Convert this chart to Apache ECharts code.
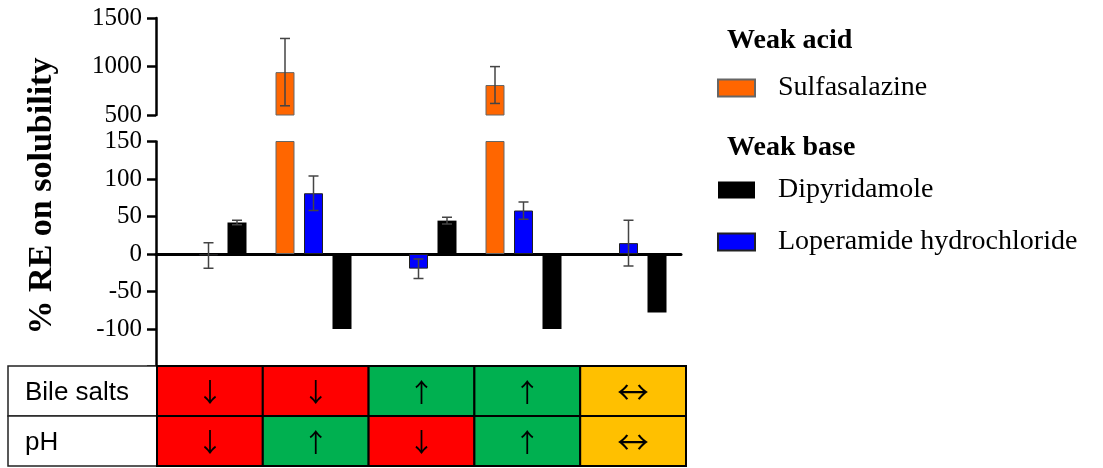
<!DOCTYPE html>
<html>
<head>
<meta charset="utf-8">
<script src="https://cdn.jsdelivr.net/npm/echarts@6/dist/echarts.min.js"></script>
<style>
  html, body { margin: 0; padding: 0; background: #fff; }
  #chart { width: 1103px; height: 468px; }
</style>
</head>
<body>
<div id="chart"></div>
<script>
// Test conditions (one group of bars per column of the condition table)
const conditions = ['BS\u2193 pH\u2193', 'BS\u2193 pH\u2191', 'BS\u2191 pH\u2193', 'BS\u2191 pH\u2191', 'BS\u2194 pH\u2194'];

// % relative effect on solubility (mean and SD)
const sulfasalazine   = [null, 942, null, 809, null];
const sulfasalazineSD = [null, 347, null, 190, null];
const loperamide      = [-2, 81, -19.5, 58, 14.5];
const loperamideSD    = [17, 23, 13, 11.5, 30.5];
const dipyridamole    = [42, -100, 44.5, -100, -78];
const dipyridamoleSD  = [3, 0, 4.5, 0, 0];

// Tick labels of the two y-axis segments
const upperTicks = [500, 1000, 1500];
const lowerTicks = [-100, -50, 0, 50, 100, 150];

// Condition table
const tableRows = ['Bile salts', 'pH'];
const bileSalts = ['\u2193', '\u2193', '\u2191', '\u2191', '\u2194'];
const pH        = ['\u2193', '\u2191', '\u2193', '\u2191', '\u2194'];

const COLORS = { sulfa: '#FF6600', lop: '#0000FF', dip: '#000000' };
const CELL_COLORS = { '\u2193': '#FF0000', '\u2191': '#00B050', '\u2194': '#FFC000' };
const BAR_W = 19, BAR_GAP = 0.5;
const SLOT = BAR_W * (1 + BAR_GAP);
const SERIF = '"Liberation Serif", "Times New Roman", serif';
const SANS = '"Liberation Sans", Arial, sans-serif';
const ARROW_FONT = '"Noto Sans CJK SC", "DejaVu Sans", sans-serif';

const chart = echarts.init(document.getElementById('chart'), null, { renderer: 'canvas' });

function errorBars(values, sds, axisIndex, slot) {
  const data = values
    .map((v, i) => [i, v, sds[i]])
    .filter(d => d[1] != null && d[2] > 0);
  return {
    type: 'custom',
    xAxisIndex: axisIndex,
    yAxisIndex: axisIndex,
    clip: true,
    silent: true,
    z: 5,
    data: data,
    renderItem(params, api) {
      const i = api.value(0), v = api.value(1), e = api.value(2);
      const x = api.coord([i, v])[0] + slot * SLOT;
      const yTop = api.coord([i, v + e])[1];
      const yBot = api.coord([i, v - e])[1];
      const half = 5;
      const style = { stroke: '#444', lineWidth: 1.5 };
      return {
        type: 'group',
        children: [
          { type: 'line', shape: { x1: x, y1: yTop, x2: x, y2: yBot }, style },
          { type: 'line', shape: { x1: x - half, y1: yTop, x2: x + half, y2: yTop }, style },
          { type: 'line', shape: { x1: x - half, y1: yBot, x2: x + half, y2: yBot }, style }
        ]
      };
    }
  };
}

const yAxisCommon = {
  type: 'value',
  splitLine: { show: false },
  axisLine: { show: true, lineStyle: { color: '#000', width: 2.5 } },
  axisTick: { show: true, length: 9, lineStyle: { color: '#000', width: 2.5 } },
  axisLabel: { color: '#000', fontSize: 25, fontFamily: SERIF, margin: 14, formatter: v => String(v) }
};

const tableData = [];
tableRows.forEach((r, ri) => {
  const row = ri === 0 ? bileSalts : pH;
  row.forEach((s, ci) => tableData.push([ci, ri]));
});
const tableSymbols = [].concat(bileSalts, pH);
const LABEL_COL_W = 149;

const option = {
  animation: false,
  backgroundColor: '#fff',
  title: [
    { text: 'Weak acid', left: 727, top: 25, padding: 0,
      textStyle: { fontFamily: SERIF, fontSize: 28, fontWeight: 'bold', color: '#000', lineHeight: 32 } },
    { text: 'Weak base', left: 727, top: 132, padding: 0,
      textStyle: { fontFamily: SERIF, fontSize: 28, fontWeight: 'bold', color: '#000', lineHeight: 32 } }
  ],
  legend: [
    { data: ['Sulfasalazine'], left: 717, top: 73, padding: 0, orient: 'vertical',
      itemWidth: 37, itemHeight: 17, icon: 'rect', selectedMode: false,
      textStyle: { fontFamily: SERIF, fontSize: 28, color: '#000', lineHeight: 30, padding: [0, 0, 0, 18] } },
    { data: ['Dipyridamole', 'Loperamide hydrochloride'], left: 717, top: 175, padding: 0, orient: 'vertical',
      itemGap: 22, itemWidth: 37, itemHeight: 17, icon: 'rect', selectedMode: false,
      textStyle: { fontFamily: SERIF, fontSize: 28, color: '#000', lineHeight: 30, padding: [0, 0, 0, 18] } }
  ],
  graphic: [
    { type: 'text', x: 42, y: 196, rotation: Math.PI / 2, z: 10,
      style: { text: '% RE on solubility', fontFamily: SERIF, fontSize: 34, fontWeight: 'bold',
               fill: '#000', align: 'center', verticalAlign: 'middle' } }
  ],
  grid: [
    { left: 156, top: 18, width: 525, height: 97 },
    { left: 156, top: 141.5, width: 525, height: 225 },
    { left: 157, top: 366, width: 529, height: 100 }
  ],
  xAxis: [
    { gridIndex: 0, type: 'category', data: conditions, show: false },
    { gridIndex: 1, type: 'category', data: conditions,
      axisLine: { show: true, onZero: true, lineStyle: { color: '#000', width: 3 } },
      axisTick: { show: false }, axisLabel: { show: false }, splitLine: { show: false } },
    { gridIndex: 2, type: 'category', data: conditions, show: false }
  ],
  yAxis: [
    Object.assign({}, yAxisCommon, {
      gridIndex: 0,
      min: upperTicks[0], max: upperTicks[upperTicks.length - 1],
      interval: upperTicks[1] - upperTicks[0]
    }),
    Object.assign({}, yAxisCommon, {
      gridIndex: 1,
      min: lowerTicks[0] - (lowerTicks[1] - lowerTicks[0]),
      max: lowerTicks[lowerTicks.length - 1],
      interval: lowerTicks[1] - lowerTicks[0],
      axisLabel: Object.assign({}, yAxisCommon.axisLabel, {
        formatter: v => (lowerTicks.indexOf(v) >= 0 ? String(v) : '')
      })
    }),
    { gridIndex: 2, type: 'category', data: tableRows, inverse: true, show: false }
  ],
  series: [
    // upper segment (500 – 1500)
    { name: 'Sulfasalazine', type: 'bar', xAxisIndex: 0, yAxisIndex: 0, clip: true,
      barWidth: BAR_W, barGap: '50%', data: sulfasalazine,
      itemStyle: { color: COLORS.sulfa, borderColor: '#666', borderWidth: 1 } },
    { type: 'bar', xAxisIndex: 0, yAxisIndex: 0, barWidth: BAR_W, barGap: '50%',
      data: conditions.map(() => null) },
    { type: 'bar', xAxisIndex: 0, yAxisIndex: 0, barWidth: BAR_W, barGap: '50%',
      data: conditions.map(() => null) },
    // lower segment (-150 – 150)
    { name: 'Sulfasalazine', type: 'bar', xAxisIndex: 1, yAxisIndex: 1, clip: true,
      barWidth: BAR_W, barGap: '50%', data: sulfasalazine,
      itemStyle: { color: COLORS.sulfa, borderColor: '#666', borderWidth: 1 } },
    { name: 'Loperamide hydrochloride', type: 'bar', xAxisIndex: 1, yAxisIndex: 1, clip: true,
      barWidth: BAR_W, barGap: '50%', data: loperamide,
      itemStyle: { color: COLORS.lop, borderColor: '#222', borderWidth: 1 } },
    { name: 'Dipyridamole', type: 'bar', xAxisIndex: 1, yAxisIndex: 1, clip: true,
      barWidth: BAR_W, barGap: '50%', data: dipyridamole,
      itemStyle: { color: COLORS.dip } },
    // error bars
    errorBars(sulfasalazine, sulfasalazineSD, 0, -1),
    errorBars(loperamide, loperamideSD, 1, 0),
    errorBars(dipyridamole, dipyridamoleSD, 1, 1),
    // condition table
    {
      type: 'custom', xAxisIndex: 2, yAxisIndex: 2, silent: true, z: 6,
      data: tableData,
      renderItem(params, api) {
        const ci = api.value(0), ri = api.value(1);
        const sym = tableSymbols[params.dataIndex];
        const c = api.coord([ci, ri]);
        const s = api.size([1, 1]);
        const x0 = c[0] - s[0] / 2, y0 = c[1] - s[1] / 2;
        const children = [
          { type: 'rect', shape: { x: x0, y: y0, width: s[0], height: s[1] },
            style: { fill: CELL_COLORS[sym], stroke: '#000', lineWidth: 2 } },
          { type: 'text', x: c[0], y: c[1] + 1,
            style: { text: sym, fontFamily: ARROW_FONT, fontSize: sym === '\u2194' ? 32 : 26, fill: '#000',
                     align: 'center', verticalAlign: 'middle' } }
        ];
        if (ci === 0) {
          // row header cell to the left of the first column
          children.unshift(
            { type: 'rect',
              shape: { x: x0 - LABEL_COL_W, y: y0, width: LABEL_COL_W, height: s[1] },
              style: { fill: '#fff', stroke: '#222', lineWidth: 1.5 } },
            { type: 'text', x: x0 - LABEL_COL_W + 17, y: c[1] + 2,
              style: { text: tableRows[ri], fontFamily: SANS, fontSize: 26, fill: '#000',
                       align: 'left', verticalAlign: 'middle' } }
          );
        }
        return { type: 'group', children };
      }
    }
  ]
};

chart.setOption(option);
</script>
</body>
</html>
